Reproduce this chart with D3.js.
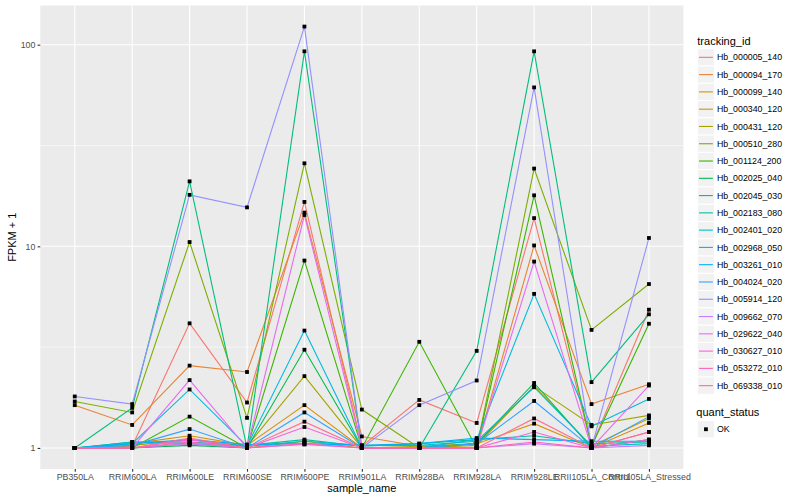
<!DOCTYPE html>
<html>
<head>
<meta charset="utf-8">
<script src="https://cdn.jsdelivr.net/npm/d3@7"></script>
<style>
  body { margin: 0; background: #fff; }
  svg text { font-family: "Liberation Sans", Arial, Helvetica, sans-serif; }
</style>
</head>
<body>
<div id="chart"></div>
<script>
// sample names on the x axis
const categories = ["PB350LA", "RRIM600LA", "RRIM600LE", "RRIM600SE", "RRIM600PE", "RRIM901LA",
                    "RRIM928BA", "RRIM928LA", "RRIM928LE", "RRII105LA_Control", "RRII105LA_Stressed"];

const trackingIds = ["Hb_000005_140", "Hb_000094_170", "Hb_000099_140", "Hb_000340_120", "Hb_000431_120",
                     "Hb_000510_280", "Hb_001124_200", "Hb_002025_040", "Hb_002045_030", "Hb_002183_080",
                     "Hb_002401_020", "Hb_002968_050", "Hb_003261_010", "Hb_004024_020", "Hb_005914_120",
                     "Hb_009662_070", "Hb_029622_040", "Hb_030627_010", "Hb_053272_010", "Hb_069338_010"];

// FPKM + 1, one row per tracking id, in category order
const fpkmPlus1 = [
  [1.00, 1.02, 4.15, 1.68, 16.6, 1.02, 1.73, 1.33, 13.8, 1.02, 4.85],
  [1.63, 1.30, 2.56, 2.38, 14.7, 1.14, 1.02, 1.00, 10.1, 1.65, 2.07],
  [1.00, 1.05, 1.15, 1.03, 1.63, 1.00, 1.00, 1.05, 1.32, 1.00, 1.33],
  [1.00, 1.00, 1.05, 1.00, 1.08, 1.00, 1.00, 1.03, 2.03, 1.02, 1.40],
  [1.00, 1.03, 1.10, 1.02, 2.27, 1.00, 1.02, 1.05, 2.02, 1.30, 1.45],
  [1.70, 1.50, 10.5, 1.41, 25.8, 1.55, 1.00, 1.00, 24.3, 3.85, 6.50],
  [1.00, 1.00, 1.43, 1.00, 8.50, 1.00, 3.36, 1.00, 17.9, 1.02, 4.13],
  [1.00, 1.00, 1.03, 1.00, 3.07, 1.00, 1.00, 1.05, 2.10, 1.00, 1.10],
  [1.00, 1.58, 21.0, 1.00, 92.7, 1.00, 1.00, 3.03, 92.7, 2.12, 4.60],
  [1.00, 1.07, 1.07, 1.03, 1.10, 1.02, 1.05, 1.10, 1.15, 1.05, 1.07],
  [1.00, 1.07, 1.05, 1.02, 1.08, 1.03, 1.03, 1.08, 2.00, 1.02, 1.05],
  [1.00, 1.05, 1.95, 1.02, 3.82, 1.00, 1.00, 1.10, 5.81, 1.28, 1.75],
  [1.00, 1.05, 1.10, 1.04, 1.05, 1.03, 1.05, 1.12, 1.10, 1.08, 1.08],
  [1.00, 1.03, 1.24, 1.00, 1.50, 1.00, 1.00, 1.05, 1.71, 1.00, 1.43],
  [1.80, 1.65, 18.0, 15.6, 123,  1.00, 1.63, 2.16, 61.4, 1.00, 11.0],
  [1.00, 1.00, 1.05, 1.00, 1.04, 1.00, 1.00, 1.00, 1.05, 1.00, 1.03],
  [1.00, 1.00, 2.17, 1.00, 14.3, 1.00, 1.00, 1.00, 8.40, 1.00, 2.04],
  [1.00, 1.00, 1.10, 1.00, 1.27, 1.00, 1.00, 1.00, 1.20, 1.00, 1.10],
  [1.00, 1.00, 1.07, 1.00, 1.05, 1.00, 1.00, 1.00, 1.07, 1.00, 1.20],
  [1.00, 1.00, 1.12, 1.00, 1.35, 1.00, 1.00, 1.00, 1.40, 1.00, 1.20]
];

const yTicks = [1, 10, 100];
const quantStatus = ["OK"];

// ggplot default hue palette for 20 groups
const palette = ["#F8766D", "#EA8331", "#D89000", "#C09B00", "#A3A500", "#7CAE00", "#39B600", "#00BB4E",
                 "#00BF7D", "#00C1A3", "#00BFC4", "#00BAE0", "#00B0F6", "#35A2FF", "#9590FF", "#C77CFF",
                 "#E76BF3", "#FA62DB", "#FF62BC", "#FF6C91"];

const W = 800, H = 500;
const panel = { left: 40.3, right: 683.4, top: 5.5, bottom: 469 };

const svg = d3.select("#chart").append("svg")
    .attr("width", W).attr("height", H);

const x = d3.scalePoint()
    .domain(categories)
    .range([panel.left, panel.right])
    .padding(0.6);

// log scale with ggplot's 5% expansion in log space
const maxLog = Math.log10(d3.max(fpkmPlus1, r => d3.max(r)));
const pad = maxLog * 0.05;
const y = d3.scaleLog()
    .domain([Math.pow(10, -pad), Math.pow(10, maxLog + pad)])
    .range([panel.bottom, panel.top]);

// panel background
svg.append("rect")
    .attr("x", panel.left).attr("y", panel.top)
    .attr("width", panel.right - panel.left)
    .attr("height", panel.bottom - panel.top)
    .attr("fill", "#EBEBEB");

const grid = svg.append("g");
// minor grid (half decades)
[Math.pow(10, 0.5), Math.pow(10, 1.5)].forEach(v => {
  grid.append("line")
      .attr("x1", panel.left).attr("x2", panel.right)
      .attr("y1", y(v)).attr("y2", y(v))
      .attr("stroke", "#fff").attr("stroke-width", 0.55);
});
yTicks.forEach(v => {
  grid.append("line")
      .attr("x1", panel.left).attr("x2", panel.right)
      .attr("y1", y(v)).attr("y2", y(v))
      .attr("stroke", "#fff").attr("stroke-width", 1.1);
});
categories.forEach(c => {
  grid.append("line")
      .attr("x1", x(c)).attr("x2", x(c))
      .attr("y1", panel.top).attr("y2", panel.bottom)
      .attr("stroke", "#fff").attr("stroke-width", 1.1);
});

// lines
const line = d3.line()
    .x((d, i) => x(categories[i]))
    .y(d => y(d));

svg.append("g").selectAll("path")
    .data(fpkmPlus1)
    .enter().append("path")
    .attr("d", line)
    .attr("fill", "none")
    .attr("stroke", (d, i) => palette[i])
    .attr("stroke-width", 1.1);

// points
const pts = [];
fpkmPlus1.forEach(row => row.forEach((v, j) => pts.push({ c: categories[j], v: v })));
svg.append("g").selectAll("rect")
    .data(pts)
    .enter().append("rect")
    .attr("x", d => x(d.c) - 1.9)
    .attr("y", d => y(d.v) - 1.9)
    .attr("width", 3.8).attr("height", 3.8)
    .attr("fill", "#000");

// axes
const axisCol = "#4D4D4D";
const yAxis = svg.append("g")
    .attr("transform", `translate(${panel.left},0)`)
    .call(d3.axisLeft(y).tickValues(yTicks).tickFormat(d3.format("d")).tickSize(2.7).tickPadding(2.2));
const xAxis = svg.append("g")
    .attr("transform", `translate(0,${panel.bottom})`)
    .call(d3.axisBottom(x).tickSize(2.7).tickPadding(2.2));
[xAxis, yAxis].forEach(a => {
  a.select(".domain").remove();
  a.selectAll(".tick line").attr("stroke", "#333").attr("stroke-width", 1.1);
  a.selectAll(".tick text").attr("fill", axisCol).style("font-size", "8.8px")
    .style("font-family", "'Liberation Sans', Arial, sans-serif");
});

svg.append("text")
    .attr("x", (panel.left + panel.right) / 2).attr("y", 492)
    .attr("text-anchor", "middle")
    .style("font-size", "11px").attr("fill", "#000")
    .text("sample_name");

svg.append("text")
    .attr("transform", `translate(16,${(panel.top + panel.bottom) / 2}) rotate(-90)`)
    .attr("text-anchor", "middle")
    .style("font-size", "11px").attr("fill", "#000")
    .text("FPKM + 1");

// legend: tracking_id
const leg = svg.append("g").attr("transform", "translate(697.3,0)");
const keyH = 17.28;
leg.append("text")
    .attr("x", 0).attr("y", 44.5)
    .style("font-size", "11px").attr("fill", "#000")
    .text("tracking_id");

const items = leg.selectAll("g.item")
    .data(trackingIds)
    .enter().append("g")
    .attr("class", "item")
    .attr("transform", (d, i) => `translate(0,${48.7 + i * keyH})`);
items.append("rect")
    .attr("width", keyH).attr("height", keyH)
    .attr("fill", "#F2F2F2").attr("stroke", "#fff").attr("stroke-width", 1);
items.append("line")
    .attr("x1", 1.7).attr("x2", keyH - 1.7)
    .attr("y1", keyH / 2).attr("y2", keyH / 2)
    .attr("stroke", (d, i) => palette[i]).attr("stroke-width", 1.1);
items.append("text")
    .attr("x", keyH + 2.4).attr("y", keyH / 2 + 3.1)
    .style("font-size", "8.8px").attr("fill", "#000")
    .text(d => d);

// legend: quant_status
const leg2 = svg.append("g").attr("transform", "translate(697.3,0)");
leg2.append("text")
    .attr("x", -1).attr("y", 416.3)
    .style("font-size", "11px").attr("fill", "#000")
    .text("quant_status");
const q = leg2.selectAll("g.q")
    .data(quantStatus)
    .enter().append("g")
    .attr("transform", (d, i) => `translate(0,${420.6 + i * keyH})`);
q.append("rect")
    .attr("width", keyH).attr("height", keyH)
    .attr("fill", "#F2F2F2").attr("stroke", "#fff");
q.append("rect")
    .attr("x", keyH / 2 - 1.9).attr("y", keyH / 2 - 1.9)
    .attr("width", 3.8).attr("height", 3.8).attr("fill", "#000");
q.append("text")
    .attr("x", keyH + 2.4).attr("y", keyH / 2 + 3.1)
    .style("font-size", "8.8px").attr("fill", "#000")
    .text(d => d);
</script>
</body>
</html>
